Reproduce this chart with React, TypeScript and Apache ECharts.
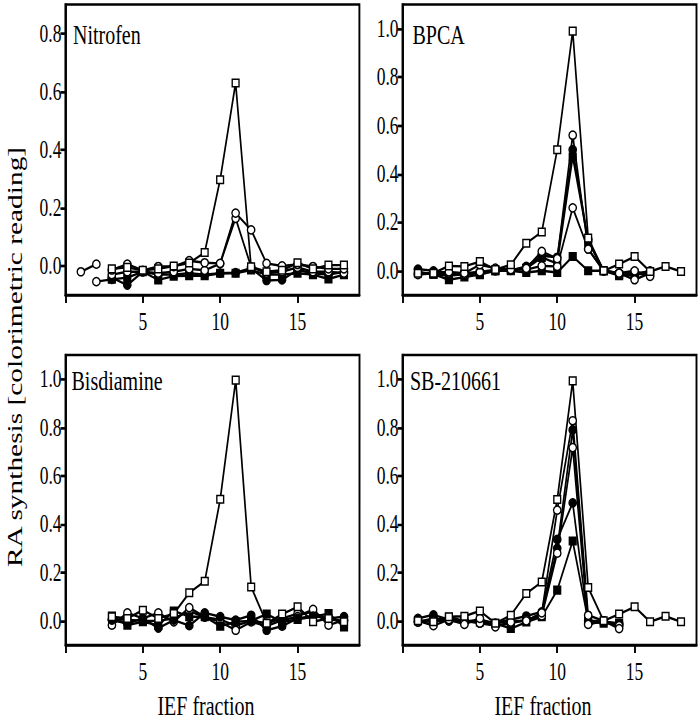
import React, { useEffect, useRef } from "react";
import * as echarts from "echarts";

// IEF fractions (x values)
const fractions = [1, 2, 3, 4, 5, 6, 7, 8, 9, 10, 11, 12, 13, 14, 15, 16, 17, 18];

// ---- Nitrofen ----
const nitOpenSquare = [null, null, -0.01, -0.005, -0.015, -0.01, 0.0, 0.01, 0.046, 0.297, 0.63, -0.003, -0.02, -0.015, 0.011, -0.01, 0.003, 0.003];
const nitOpenCircleA = [null, null, -0.014, 0.006, -0.015, -0.002, -0.002, 0.018, 0.011, 0.009, 0.182, 0.124, 0.009, 0.0, 0.005, -0.002, -0.01, -0.01];
const nitOpenCircleB = [null, null, -0.03, -0.02, -0.02, -0.025, -0.02, -0.01, -0.015, 0.008, 0.164, -0.003, -0.025, -0.02, -0.005, -0.02, -0.02, -0.025];
const nitOpenCircleC = [-0.02, 0.006, null, null, null, null, null, null, null, null, null, null, null, null, null, null, null, null];
const nitOpenCircleD = [null, -0.054, -0.046, null, null, null, null, null, null, null, null, null, null, null, null, null, null, null];
const nitFilledSquare = [null, null, -0.046, -0.04, -0.02, -0.048, -0.035, -0.034, -0.034, -0.025, -0.025, -0.014, -0.03, -0.03, -0.025, -0.03, -0.045, -0.03];
const nitFilledCircle = [null, null, -0.04, -0.066, -0.02, -0.03, -0.03, -0.025, -0.03, -0.025, -0.023, -0.008, -0.05, -0.048, -0.014, -0.025, -0.03, -0.02];

// ---- BPCA ----
const bpcaOpenSquare = [-0.01, -0.01, 0.02, 0.018, 0.038, 0.005, 0.025, 0.114, 0.16, 0.5, 0.99, 0.135, 0.0, 0.028, 0.059, -0.003, 0.018, -0.003];
const bpcaOpenCircleA = [-0.016, -0.01, -0.005, -0.01, 0.025, 0.011, 0.005, 0.01, 0.08, 0.05, 0.56, 0.09, 0.0, -0.01, 0.0, -0.023, null, null];
const bpcaOpenCircleB = [-0.01, -0.01, -0.01, -0.015, -0.005, 0.005, 0.005, 0.005, 0.02, 0.018, 0.26, 0.09, 0.0, -0.01, -0.037, -0.01, null, null];
const bpcaFilledCircle = [0.007, 0.0, -0.01, -0.01, -0.005, 0.0, 0.002, 0.018, 0.062, 0.056, 0.5, 0.128, 0.0, -0.01, -0.016, 0.0, null, null];
const bpcaFilledSquareA = [-0.005, -0.014, -0.02, -0.015, -0.01, 0.0, 0.005, 0.01, 0.055, 0.03, 0.47, 0.12, 0.0, -0.015, -0.01, -0.005, null, null];
const bpcaFilledSquareB = [-0.007, -0.014, -0.037, -0.026, -0.016, 0.0, 0.0, -0.007, 0.0, -0.007, 0.059, 0.0, 0.0, -0.02, -0.016, -0.01, null, null];

// ---- Bisdiamine ----
const bisOpenSquare = [null, null, 0.017, 0.01, 0.044, 0.01, 0.03, 0.116, 0.164, 0.503, 0.996, 0.14, -0.01, 0.028, 0.058, -0.004, 0.01, -0.004];
const bisOpenCircleA = [null, null, -0.018, 0.033, 0.01, 0.033, -0.004, 0.055, 0.017, -0.004, -0.039, -0.004, -0.022, 0.003, 0.017, 0.047, -0.018, 0.003];
const bisOpenCircleB = [null, null, 0.005, 0.005, 0.0, 0.0, 0.01, 0.04, 0.015, 0.005, -0.02, 0.0, -0.01, 0.01, 0.03, 0.035, 0.005, 0.0];
const bisFilledCircle = [null, null, 0.003, -0.011, 0.01, -0.03, 0.003, -0.02, 0.033, 0.017, 0.003, 0.023, -0.039, -0.022, 0.01, 0.02, 0.01, 0.017];
const bisFilledSquare = [null, null, 0.02, -0.018, -0.004, -0.018, 0.041, 0.017, 0.017, -0.022, -0.004, 0.0, 0.028, -0.004, 0.006, 0.017, 0.03, -0.025];

// ---- SB-210661 ----
const sbOpenSquare = [0.0, -0.004, 0.017, 0.019, 0.041, -0.01, 0.023, 0.113, 0.161, 0.502, 0.993, 0.138, 0.0, 0.028, 0.058, -0.004, 0.019, -0.004];
const sbOpenCircleA = [0.0, -0.02, 0.005, -0.015, 0.01, -0.025, -0.005, 0.0, 0.033, 0.458, 0.828, 0.023, 0.0, -0.032, null, null, null, null];
const sbOpenCircleB = [-0.005, 0.0, 0.0, 0.0, -0.01, -0.02, -0.01, 0.005, 0.02, 0.28, 0.717, -0.015, 0.0, -0.02, null, null, null, null];
const sbFilledCircleA = [0.01, 0.025, 0.005, 0.0, 0.0, -0.01, 0.005, 0.02, 0.037, 0.337, 0.488, -0.01, -0.005, -0.01, null, null, null, null];
const sbFilledCircleB = [-0.005, 0.01, 0.0, -0.005, 0.005, -0.01, 0.0, 0.0, 0.03, 0.3, 0.79, 0.0, 0.0, -0.015, null, null, null, null];
const sbFilledSquare = [0.0, 0.0, 0.015, 0.0, -0.005, -0.01, -0.032, -0.005, 0.017, 0.127, 0.33, 0.0, -0.01, -0.01, null, null, null, null];

// tick labels
const xTicks = [0, 5, 10, 15];
const xLabels = [5, 10, 15];
const yTicksTop1 = [0, 0.2, 0.4, 0.6, 0.8];
const yTicksOther = [0, 0.2, 0.4, 0.6, 0.8, 1.0];

const panelTitles = ["Nitrofen", "BPCA", "Bisdiamine", "SB-210661"];
const xTitle = "IEF fraction";
const yTitle = "RA synthesis [colorimetric reading]";

type Kind = "openSquare" | "openCircle" | "filledSquare" | "filledCircle";

const panels: { series: [Kind, (number | null)[]][]; yMin: number; yMax: number; yTicks: number[] }[] = [
  {
    yMin: -0.1, yMax: 0.9, yTicks: yTicksTop1,
    series: [
      ["openCircle", nitOpenCircleD],
      ["filledSquare", nitFilledSquare],
      ["filledCircle", nitFilledCircle],
      ["openCircle", nitOpenCircleC],
      ["openCircle", nitOpenCircleB],
      ["openCircle", nitOpenCircleA],
      ["openSquare", nitOpenSquare],
    ],
  },
  {
    yMin: -0.1, yMax: 1.1, yTicks: yTicksOther,
    series: [
      ["filledSquare", bpcaFilledSquareB],
      ["filledSquare", bpcaFilledSquareA],
      ["filledCircle", bpcaFilledCircle],
      ["openCircle", bpcaOpenCircleB],
      ["openCircle", bpcaOpenCircleA],
      ["openSquare", bpcaOpenSquare],
    ],
  },
  {
    yMin: -0.1, yMax: 1.1, yTicks: yTicksOther,
    series: [
      ["openCircle", bisOpenCircleB],
      ["openCircle", bisOpenCircleA],
      ["filledSquare", bisFilledSquare],
      ["filledCircle", bisFilledCircle],
      ["openSquare", bisOpenSquare],
    ],
  },
  {
    yMin: -0.1, yMax: 1.1, yTicks: yTicksOther,
    series: [
      ["filledSquare", sbFilledSquare],
      ["filledCircle", sbFilledCircleB],
      ["filledCircle", sbFilledCircleA],
      ["openCircle", sbOpenCircleB],
      ["openCircle", sbOpenCircleA],
      ["openSquare", sbOpenSquare],
    ],
  },
];

// vertical stretch of the original figure
const S = 1.4;
const W = 700;
const H = 720 / S;
const FONT = "'Liberation Serif', 'Times New Roman', serif";

// grid boxes (x in px, y in real px -> divided by S)
const grids = [
  { left: 65.4, top: 4.5 / S, width: 294, height: 290.5 / S },
  { left: 402.5, top: 4.5 / S, width: 294, height: 290.5 / S },
  { left: 65.5, top: 355 / S, width: 294, height: 290 / S },
  { left: 402.5, top: 355 / S, width: 294, height: 290 / S },
];

const titlePos = [
  { x: 73, y: 34 / S },
  { x: 412.5, y: 34 / S },
  { x: 71.5, y: 380 / S },
  { x: 410, y: 380 / S },
];

function toData(vals: (number | null)[]) {
  const out: number[][] = [];
  fractions.forEach((f, i) => {
    const v = vals[i];
    if (v !== null && v !== undefined) out.push([f, v]);
  });
  return out;
}

function App() {
  const ref = useRef<HTMLDivElement>(null);
  useEffect(() => {
    if (!ref.current) return;
    const chart = echarts.init(ref.current, null, { renderer: "svg" });
    const lineW = 1.9;
    const xAxis = grids.map((_, i) => ({
      type: "value",
      gridIndex: i,
      min: 0,
      max: 19,
      splitLine: { show: false },
      axisLine: { show: true, onZero: false, lineStyle: { color: "#000", width: lineW } },
      axisTick: { show: true, length: 8 / S, customValues: xTicks, lineStyle: { color: "#000", width: lineW } },
      axisLabel: {
        show: true,
        customValues: xLabels,
        color: "#000",
        fontFamily: FONT,
        fontSize: 17.5,
        margin: 10,
      },
    }));
    const yAxis = panels.map((p, i) => ({
      type: "value",
      gridIndex: i,
      min: p.yMin,
      max: p.yMax,
      splitLine: { show: false },
      axisLine: { show: true, onZero: false, lineStyle: { color: "#000", width: lineW } },
      axisTick: { show: true, length: 5, customValues: p.yTicks, lineStyle: { color: "#000", width: lineW } },
      axisLabel: {
        show: true,
        customValues: p.yTicks,
        formatter: (v: number) => v.toFixed(1),
        color: "#000",
        fontFamily: FONT,
        fontSize: 17.5,
        margin: 4,
      },
    }));
    const series: any[] = [];
    panels.forEach((p, i) => {
      p.series.forEach(([kind, vals]) => {
        const open = kind === "openSquare" || kind === "openCircle";
        const square = kind === "openSquare" || kind === "filledSquare";
        series.push({
          type: "line",
          xAxisIndex: i,
          yAxisIndex: i,
          data: toData(vals),
          symbol: square ? "rect" : "circle",
          symbolSize: square ? [6.8, 5.4] : [7.4, 5.8],
          showAllSymbol: true,
          lineStyle: { color: "#000", width: 1.7 },
          itemStyle: { color: open ? "#fff" : "#000", borderColor: "#000", borderWidth: 1.2 },
          emphasis: { disabled: true },
          silent: true,
        });
      });
    });
    const graphic: any[] = [];
    panelTitles.forEach((t, i) => {
      graphic.push({
        type: "text",
        x: titlePos[i].x,
        y: titlePos[i].y,
        style: { text: t, fill: "#000", font: `20px ${FONT}`, align: "left", verticalAlign: "middle" },
      });
    });
    [206, 543].forEach((cx) => {
      graphic.push({
        type: "text",
        x: cx,
        y: 705 / S,
        style: { text: xTitle, fill: "#000", font: `20px ${FONT}`, align: "center", verticalAlign: "middle" },
      });
    });
    graphic.push({
      type: "text",
      x: 15,
      y: 357 / S,
      rotation: Math.PI / 2,
      style: { text: yTitle, fill: "#000", font: `21px ${FONT}`, align: "center", verticalAlign: "middle" },
    });
    chart.setOption({
      animation: false,
      backgroundColor: "#fff",
      grid: grids.map((g) => ({ ...g, show: true, borderColor: "#000", borderWidth: lineW, backgroundColor: "transparent", containLabel: false })),
      xAxis,
      yAxis,
      series,
      graphic,
    });
    return () => chart.dispose();
  }, []);
  return (
    <div
      ref={ref}
      style={{
        position: "absolute",
        left: 0,
        top: 0,
        width: W,
        height: H,
        transform: `scaleY(${S})`,
        transformOrigin: "0 0",
        background: "#fff",
      }}
    />
  );
}

export default App;
